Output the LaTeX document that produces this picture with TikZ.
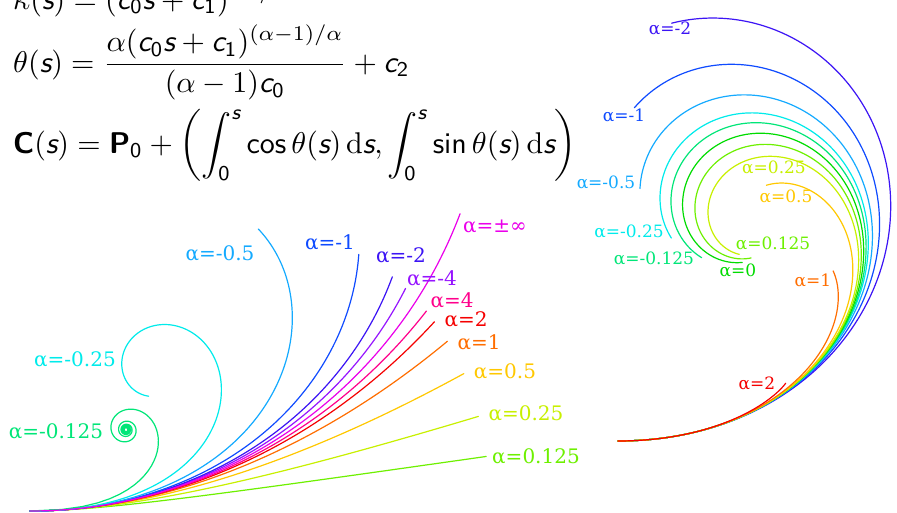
\documentclass[tikz,border=0pt]{standalone}
\usepackage{amsmath}
\usepackage{graphicx}
\usepackage{fontspec}
\newfontfamily\labfont{DejaVu Serif}
\newcommand\mv[1]{\text{\sffamily\itshape #1}}
\newcommand\mn[1]{\text{\sffamily #1}}
\newcommand\mb[1]{\text{\sffamily\bfseries #1}}
\definecolor{cAm0125}{RGB}{0,230,120}
\definecolor{cAm025}{RGB}{0,235,235}
\definecolor{cAm05}{RGB}{20,170,255}
\definecolor{cAm1}{RGB}{15,75,255}
\definecolor{cAm2}{RGB}{60,20,245}
\definecolor{cAm4}{RGB}{150,20,255}
\definecolor{cAinf}{RGB}{235,0,235}
\definecolor{cA4}{RGB}{255,0,140}
\definecolor{cA2}{RGB}{245,0,0}
\definecolor{cA1}{RGB}{255,110,0}
\definecolor{cA05}{RGB}{255,200,0}
\definecolor{cA025}{RGB}{200,240,0}
\definecolor{cA0125}{RGB}{110,240,0}
\definecolor{cA0}{RGB}{0,220,0}
\makeatletter
% curve by arc length: #1 theta(\sv), #2 s_end, #3 steps, #4 style
\newcommand\lacs[4]{%
  \gdef\lac@x{0}\gdef\lac@y{0}\gdef\lac@p{(0,0)}%
  \pgfmathsetmacro\lac@h{#2/#3}%
  \foreach \k in {1,...,#3}{%
    \pgfmathsetmacro\sv{(\k-0.5)*\lac@h}%
    \pgfmathsetmacro\lac@t{#1}%
    \pgfmathsetmacro\lac@nx{\lac@x+\lac@h*cos(\lac@t r)}%
    \pgfmathsetmacro\lac@ny{\lac@y+\lac@h*sin(\lac@t r)}%
    \xdef\lac@x{\lac@nx}\xdef\lac@y{\lac@ny}%
    \xdef\lac@p{\lac@p (\lac@nx,\lac@ny)}%
  }%
  \edef\lac@cmd{\noexpand\draw[#4] plot coordinates {\lac@p};}%
  \lac@cmd
}
% curve by tangent angle: #1 rho(\tv), #2 theta_end, #3 steps, #4 style
\newcommand\lact[4]{%
  \gdef\lac@x{0}\gdef\lac@y{0}\gdef\lac@p{(0,0)}%
  \pgfmathsetmacro\lac@h{#2/#3}%
  \foreach \k in {1,...,#3}{%
    \pgfmathsetmacro\tv{(\k-0.5)*\lac@h}%
    \pgfmathsetmacro\lac@r{#1}%
    \pgfmathsetmacro\lac@a{(\k-1)*\lac@h}%
    \pgfmathsetmacro\lac@b{\k*\lac@h}%
    \pgfmathsetmacro\lac@nx{\lac@x+\lac@r*(sin(\lac@b r)-sin(\lac@a r))}%
    \pgfmathsetmacro\lac@ny{\lac@y+\lac@r*(cos(\lac@a r)-cos(\lac@b r))}%
    \xdef\lac@x{\lac@nx}\xdef\lac@y{\lac@ny}%
    \xdef\lac@p{\lac@p (\lac@nx,\lac@ny)}%
  }%
  \edef\lac@cmd{\noexpand\draw[#4] plot coordinates {\lac@p};}%
  \lac@cmd
}
\makeatother
\begin{document}
\begin{tikzpicture}[x=1pt,y=-1pt,
  lab/.style={inner sep=0pt, font=\labfont\fontsize{20}{24}\selectfont},
  rlab/.style={inner sep=0pt, font=\labfont\fontsize{17}{20}\selectfont},
  crv/.style={line width=1.2pt, line join=round, line cap=round},
  eq/.style={anchor=base west, inner sep=0pt}]
\useasboundingbox (0,0) rectangle (897,512);
\fill[white] (0,0) rectangle (897,512);

% equations
\node[eq] (eqk) at (13,9) {\scalebox{3.0}{$\kappa(\mv s)=(\mv c_{\mn0}\mv s+\mv c_{\mn1})^{-1/\alpha}$}};
\node[eq] (eqt) at (13,72) {\scalebox{3.0}{$\displaystyle \theta(\mv s)=\frac{\alpha(\mv c_{\mn0}\mv s+\mv c_{\mn1})^{(\alpha-1)/\alpha}}{(\alpha-1)\mv c_{\mn0}}+\mv c_{\mn2}$}};
\node[eq] (eqc) at (13,153) {\scalebox{3.0}{$\displaystyle \mb{C}(\mv s)=\mb{P}_{\mn0}+\left(\int_{\mn0}^{\mv s}\mathop{\mn{cos}}\nolimits\theta(\mv s)\,\mathrm{d}\mv s,\int_{\mn0}^{\mv s}\mathop{\mn{sin}}\nolimits\theta(\mv s)\,\mathrm{d}\mv s\right)$}};

% left family: kappa = (1+s)^p, s in [0,1]
\begin{scope}[shift={(30,511)}, xscale=460, yscale=-460]
\lacs{(1-(1+\sv)^(-7))/7}{1}{60}{crv, cA0125}
\lacs{(1-(1+\sv)^(-3))/3}{1}{60}{crv, cA025}
\lacs{1-1/(1+\sv)}{1}{80}{crv, cA05}
\lacs{ln(1+\sv)}{1}{80}{crv, cA1}
\lacs{2*(sqrt(1+\sv)-1)}{1}{80}{crv, cA2}
\lacs{((1+\sv)^0.75-1)/0.75}{1}{80}{crv, cA4}
\lacs{((1+\sv)^1.25-1)/1.25}{1}{80}{crv, cAm4}
\lacs{((1+\sv)^1.5-1)/1.5}{1}{80}{crv, cAm2}
\lacs{\sv+\sv*\sv/2}{1}{100}{crv, cAm1}
\lacs{((1+\sv)^3-1)/3}{1}{120}{crv, cAm05}
\lacs{((1+\sv)^5-1)/5}{1}{220}{crv, cAm025}
\lact{(1+9*\tv)^(-0.888889)}{56.7778}{600}{crv, cAm0125}
\lacs{\sv}{1.21}{80}{crv, cAinf}
\end{scope}

% right family: rho(theta) = (1-(a-1)theta)^(1/(a-1))
\begin{scope}[shift={(618,441)}, xscale=365, yscale=-365]
\lact{(1+3*\tv)^(-0.333333)}{3.394}{120}{crv, cAm2}
\lact{(1+2*\tv)^(-0.5)}{4.0}{130}{crv, cAm1}
\lact{(1+1.5*\tv)^(-0.666667)}{4.667}{140}{crv, cAm05}
\lact{(1+1.25*\tv)^(-0.8)}{5.275}{150}{crv, cAm025}
\lact{(1+1.125*\tv)^(-0.888889)}{5.734}{160}{crv, cAm0125}
\lact{1/(1+\tv)}{6.389}{170}{crv, cA0}
\lact{(1+0.875*\tv)^(-1.142857)}{6.5}{180}{crv, cA0125}
\lact{(1+0.75*\tv)^(-1.333333)}{6.05}{170}{crv, cA025}
\lact{(1+0.5*\tv)^(-2)}{3.437}{120}{crv, cA05}
\lact{exp(-\tv)}{2.0}{80}{crv, cA1}
\lact{1-\tv}{1.0}{50}{crv, cA2}
\end{scope}

% left labels
\node[lab, text=cAm05] (lm05) at (220,253) {α=-0.5};
\node[lab, text=cAm1] (lm1) at (330,242) {α=-1};
\node[lab, text=cAm2] (lm2) at (401,255) {α=-2};
\node[lab, text=cAm4] (lm4) at (432,278) {α=-4};
\node[lab, text=cAinf] (linf) at (495,227) {α=±∞};
\node[lab, text=cA4] (l4) at (452,300) {α=4};
\node[lab, text=cA2] (l2) at (466,319) {α=2};
\node[lab, text=cA1] (l1) at (479,342) {α=1};
\node[lab, text=cA05] (l05) at (505,371) {α=0.5};
\node[lab, text=cA025] (l025) at (526,413) {α=0.25};
\node[lab, text=cA0125] (l0125) at (536,456) {α=0.125};
\node[lab, text=cAm025] (lm025) at (75,359) {α=-0.25};
\node[lab, text=cAm0125] (lm0125) at (56,431) {α=-0.125};

% right labels
\node[rlab, text=cAm2] (rm2) at (670,28) {α=-2};
\node[rlab, text=cAm1] (rm1) at (624,115) {α=-1};
\node[rlab, text=cAm05] (rm05) at (606,182) {α=-0.5};
\node[rlab, text=cAm025] (rm025) at (629,231) {α=-0.25};
\node[rlab, text=cAm0125] (rm0125) at (654,258) {α=-0.125};
\node[rlab, text=cA0] (r0) at (738,270) {α=0};
\node[rlab, text=cA0125] (r0125) at (773,243) {α=0.125};
\node[rlab, text=cA025] (r025) at (774,167) {α=0.25};
\node[rlab, text=cA05] (r05) at (786,196) {α=0.5};
\node[rlab, text=cA1] (r1) at (813,280) {α=1};
\node[rlab, text=cA2] (r2) at (757,383) {α=2};
\end{tikzpicture}
\end{document}
